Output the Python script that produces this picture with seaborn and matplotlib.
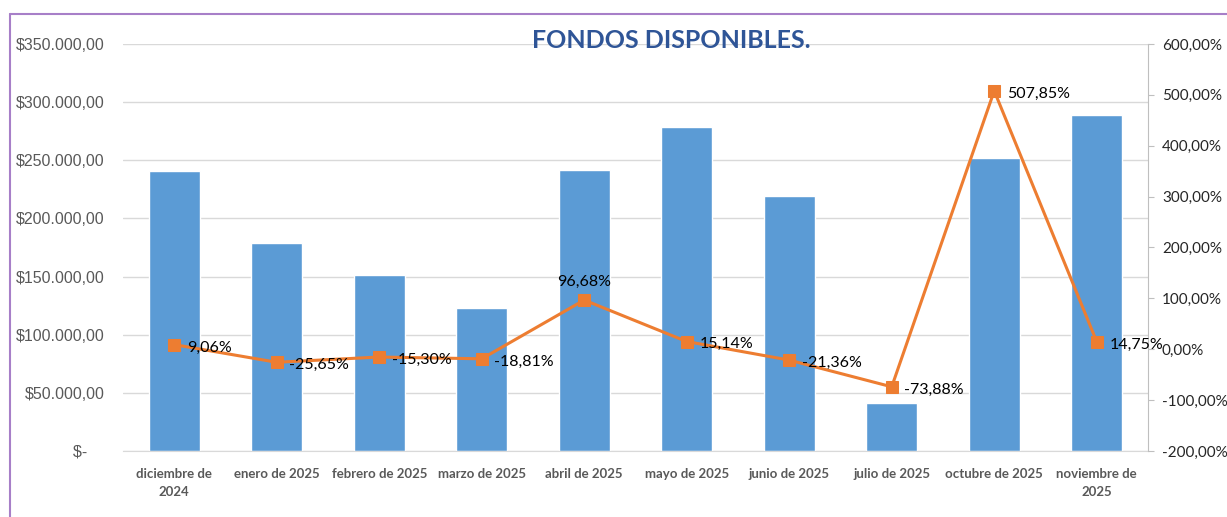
import matplotlib
matplotlib.use("Agg")
import matplotlib.pyplot as plt
from matplotlib.lines import Line2D
from matplotlib.ticker import FuncFormatter, MultipleLocator
import seaborn as sns
import pandas as pd

meses = ["diciembre de\n2024", "enero de 2025", "febrero de 2025", "marzo de 2025",
         "abril de 2025", "mayo de 2025", "junio de 2025", "julio de 2025",
         "octubre de 2025", "noviembre de\n2025"]
fondos = [240800, 178900, 151400, 123000, 241700, 278600, 219300, 41300, 252000, 289000]
variacion = [9.06, -25.65, -15.30, -18.81, 96.68, 15.14, -21.36, -73.88, 507.85, 14.75]

df = pd.DataFrame({"mes": meses, "fondos": fondos, "var": variacion})

sns.set_style("white")
plt.rcParams["font.family"] = ["Liberation Sans", "DejaVu Sans"]

fig = plt.figure(figsize=(12.27, 5.17), dpi=100)
ax = fig.add_axes([0.1002, 0.1277, 0.8354, 0.7872])

sns.barplot(data=df, x="mes", y="fondos", color="#5B9BD5", saturation=1, width=0.5, ax=ax)
ax.set_xlim(-0.5, len(meses) - 0.5)
ax.set_ylim(0, 350000)
ax.yaxis.set_major_locator(MultipleLocator(50000))
ax.yaxis.set_major_formatter(FuncFormatter(
    lambda v, p: "$-    " if v == 0 else "$" + f"{v:,.2f}".replace(",", "X").replace(".", ",").replace("X", ".")))
ax.grid(axis="y", color="#D9D9D9", linewidth=1)
ax.set_axisbelow(True)
ax.set_xlabel("")
ax.set_ylabel("")
for s in ["top", "right", "left"]:
    ax.spines[s].set_visible(False)
ax.spines["bottom"].set_color("#D9D9D9")
ax.tick_params(axis="y", length=0, pad=13, labelsize=11.5, labelcolor="#595959")
ax.tick_params(axis="x", length=0, pad=12)
for t in ax.get_xticklabels():
    t.set_family(["Lato", "DejaVu Sans"])
    t.set_fontweight("bold")
    t.set_fontsize(9.5)
    t.set_color("#595959")
    t.set_linespacing(1.6)

ax2 = ax.twinx()
sns.lineplot(x=list(range(len(meses))), y=variacion, ax=ax2, color="#ED7D31", linewidth=2.2,
             marker="s", markersize=9, markeredgecolor="#ED7D31")
ax2.set_xlim(-0.5, len(meses) - 0.5)
ax2.set_ylim(-200, 600)
ax2.yaxis.set_major_locator(MultipleLocator(100))
ax2.yaxis.set_major_formatter(FuncFormatter(lambda v, p: f"{v:.2f}".replace(".", ",") + "%"))
for s in ["top", "left", "bottom"]:
    ax2.spines[s].set_visible(False)
ax2.spines["right"].set_color("#BFBFBF")
ax2.tick_params(axis="y", length=4, color="#BFBFBF", labelsize=11, labelcolor="#262626", pad=6)
for t in ax2.get_yticklabels():
    t.set_family(["Lato", "DejaVu Sans"])
ax2.set_ylabel("")

for i, v in enumerate(variacion):
    texto = f"{v:.2f}".replace(".", ",") + "%"
    if i == 4:
        ax2.annotate(texto, (i, v), xytext=(0, 8), textcoords="offset points",
                     ha="center", va="bottom", fontsize=11.5, color="#000000", family=["Lato", "DejaVu Sans"])
    else:
        ax2.annotate(texto, (i, v), xytext=(9, -2), textcoords="offset points",
                     ha="left", va="center", fontsize=11.5, color="#000000", family=["Lato", "DejaVu Sans"])

fig.text(671 / 1227, 1 - 41 / 517, "FONDOS DISPONIBLES.", ha="center", va="center",
         fontsize=18, fontweight="bold", color="#2F5597", family=["Lato", "DejaVu Sans"])

# borde morado
fig.add_artist(Line2D([10 / 1227, 1], [1 - 14 / 517, 1 - 14 / 517], color="#A77FC8", linewidth=1.5))
fig.add_artist(Line2D([10 / 1227, 10 / 1227], [0, 1 - 14 / 517], color="#A77FC8", linewidth=1.5))

fig.savefig("out.png", dpi=100)
